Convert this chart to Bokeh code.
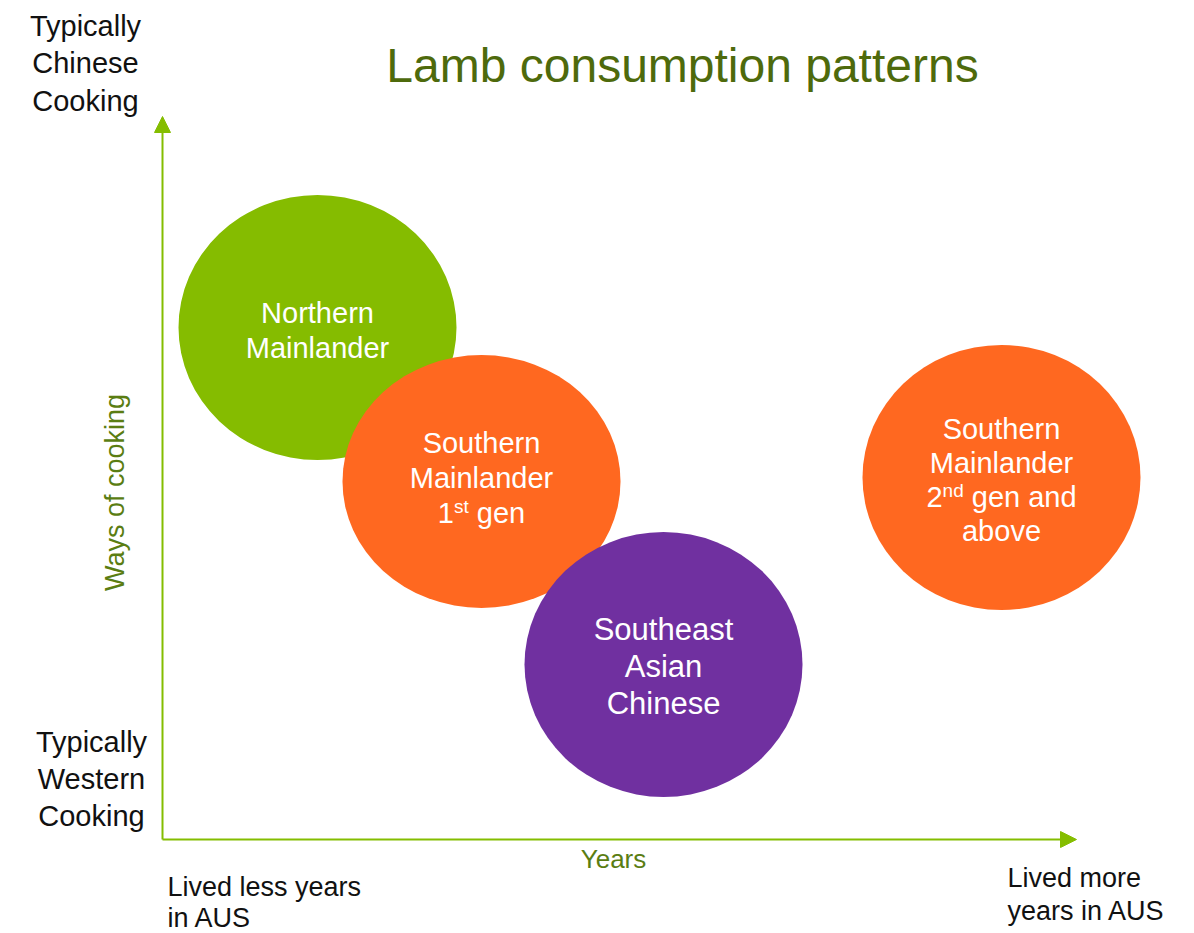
import math
from bokeh.plotting import figure
from bokeh.models import Range1d, Arrow, NormalHead, ColumnDataSource
from bokeh.core.properties import value
from bokeh.embed import file_html
from bokeh.resources import INLINE

# ---------------- data (chart units: 1 unit = 100 px) ----------------
groups = ["Northern Mainlander", "Southern Mainlander 1st gen",
          "Southeast Asian Chinese", "Southern Mainlander 2nd gen and above"]
years_pos = [1.55, 3.19, 5.01, 8.39]      # x: years lived in AUS
cooking_pos = [5.12, 3.58, 1.75, 3.62]    # y: ways of cooking
bubble_w = [2.78, 2.78, 2.78, 2.78]
bubble_h = [2.65, 2.53, 2.65, 2.65]
colors = ["#85BC00", "#FF6820", "#7030A0", "#FF6820"]

# bubble label lines: (base, superscript, rest)
bubble_lines = [
    [("Northern", "", ""), ("Mainlander", "", "")],
    [("Southern", "", ""), ("Mainlander", "", ""), ("1", "st", " gen")],
    [("Southeast", "", ""), ("Asian", "", ""), ("Chinese", "", "")],
    [("Southern", "", ""), ("Mainlander", "", ""), ("2", "nd", " gen and"), ("above", "", "")],
]
bubble_font = [29, 29, 31, 29]
bubble_spacing = [35, 35, 37, 34]
bubble_dy = [3, -4, 2, 2]

title = "Lamb consumption patterns"
x_label = "Years"
y_label = "Ways of cooking"
top_label = ["Typically", "Chinese", "Cooking"]
bottom_label = ["Typically", "Western", "Cooking"]
left_label = ["Lived less years", "in AUS"]
right_label = ["Lived more", "years in AUS"]

FONT = "Liberation Sans"
AXIS_GREEN = "#84BD00"
TEXT_GREEN = "#5A7D12"
TITLE_GREEN = "#4E6A0C"

ARIAL = {'1': 556, '2': 556, 's': 500, 't': 278, 'n': 556, 'd': 556, ' ': 278,
         'g': 556, 'e': 556, 'a': 556}


def tw(s, size):
    return sum(ARIAL.get(c, 556) for c in s) * size / 1000.0


p = figure(width=1190, height=932, output_backend="svg", toolbar_location=None,
           x_range=Range1d(-1.62, 10.28), y_range=Range1d(-0.93, 8.39),
           x_axis_type=None, y_axis_type=None, min_border=0,
           background_fill_color="white", border_fill_color="white")
p.outline_line_color = None
p.grid.visible = False

# axes as arrows
p.add_layout(Arrow(end=NormalHead(size=16, fill_color=AXIS_GREEN, line_color=AXIS_GREEN),
                   x_start=0, y_start=0, x_end=0, y_end=7.23,
                   line_color=AXIS_GREEN, line_width=2))
p.add_layout(Arrow(end=NormalHead(size=16, fill_color=AXIS_GREEN, line_color=AXIS_GREEN),
                   x_start=0, y_start=0, x_end=9.14, y_end=0,
                   line_color=AXIS_GREEN, line_width=2))

# bubbles
src = ColumnDataSource(dict(x=years_pos, y=cooking_pos, w=bubble_w, h=bubble_h, c=colors, g=groups))
p.ellipse(x="x", y="y", width="w", height="h", fill_color="c", line_color=None, source=src)

# bubble labels
for cx, cy, lines, fs, sp, dy in zip(years_pos, cooking_pos, bubble_lines,
                                    bubble_font, bubble_spacing, bubble_dy):
    n = len(lines)
    for i, (base, sup, rest) in enumerate(lines):
        ly = cy - ((i - (n - 1) / 2) * sp + dy) / 100.0
        if not sup:
            p.text(x=[cx], y=[ly], text=[base], text_align="center", text_baseline="middle",
                   text_color="white", text_font=value(FONT), text_font_size=f"{fs}px")
        else:
            sfs = round(fs * 0.65)
            w1, w2, w3 = tw(base, fs), tw(sup, sfs), tw(rest, fs)
            sp_w = tw(" ", fs)
            start = -(w1 + w2 + w3) / 2
            p.text(x=[cx], y=[ly], text=[base], text_align="left", text_baseline="middle",
                   x_offset=start, text_color="white", text_font=value(FONT),
                   text_font_size=f"{fs}px")
            p.text(x=[cx], y=[ly + 0.065], text=[sup], text_align="left", text_baseline="middle",
                   x_offset=start + w1, text_color="white", text_font=value(FONT),
                   text_font_size=f"{sfs}px")
            p.text(x=[cx], y=[ly], text=[rest.strip()], text_align="left", text_baseline="middle",
                   x_offset=start + w1 + w2 + sp_w, text_color="white", text_font=value(FONT),
                   text_font_size=f"{fs}px")


def lines_text(lines, x, y0, spacing, size, align, color="#111111"):
    ys = [y0 - i * spacing for i in range(len(lines))]
    p.text(x=[x] * len(lines), y=ys, text=lines, text_align=align, text_baseline="middle",
           text_color=color, text_font=value(FONT), text_font_size=f"{size}px")


# title
p.text(x=[5.20], y=[7.74], text=[title], text_align="center", text_baseline="middle",
       text_color=TITLE_GREEN, text_font=value(FONT), text_font_size="48px")

# corner labels
lines_text(top_label, -0.77, 8.14, 0.375, 29, "center")
lines_text(bottom_label, -0.71, 0.98, 0.37, 29, "center")
lines_text(left_label, 0.05, -0.47, 0.31, 27, "left")
lines_text(right_label, 8.45, -0.38, 0.33, 27, "left")

# axis titles
p.text(x=[-0.48], y=[3.47], text=[y_label], angle=math.pi / 2, text_align="center",
       text_baseline="middle", text_color=TEXT_GREEN, text_font=value(FONT),
       text_font_size="27px")
p.text(x=[4.51], y=[-0.19], text=[x_label], text_align="center", text_baseline="middle",
       text_color=TEXT_GREEN, text_font=value(FONT), text_font_size="26px")

open("out.html", "w").write(file_html(p, INLINE))
